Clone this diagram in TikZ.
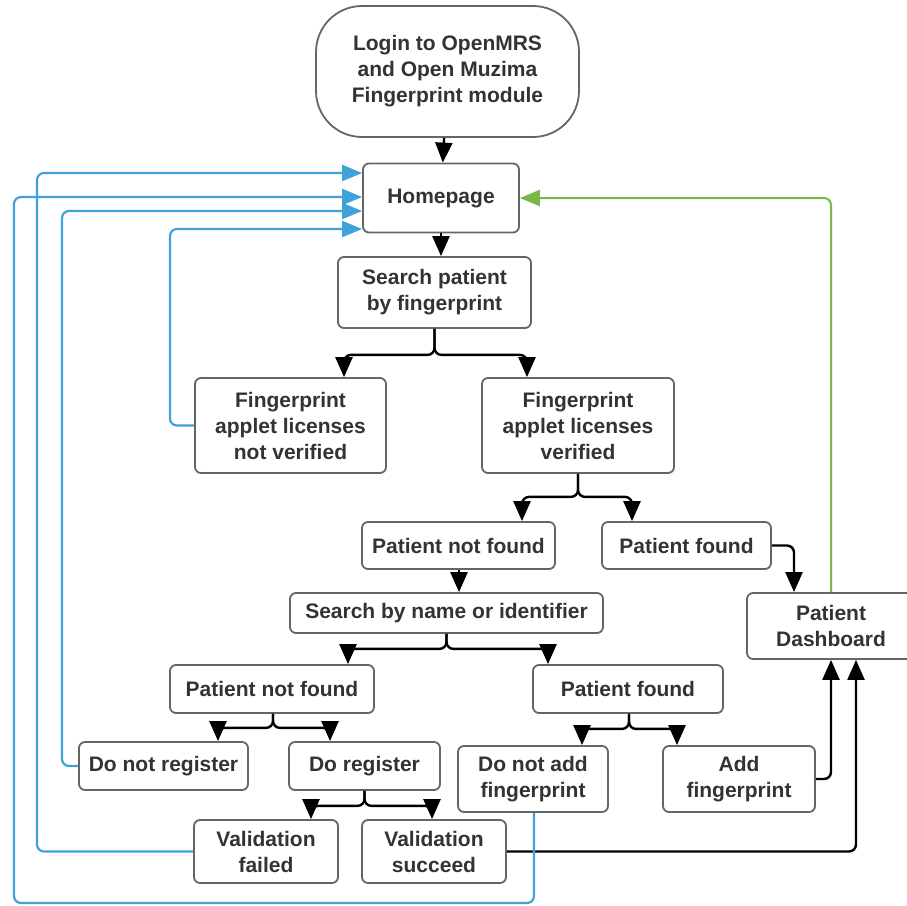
\documentclass[tikz,border=0pt]{standalone}
\usepackage{fontspec}
\setmainfont{Liberation Sans}
\usetikzlibrary{arrows.meta}

\definecolor{boxline}{HTML}{666666}
\definecolor{textgray}{HTML}{333333}
\definecolor{backblue}{HTML}{3FA2D8}
\definecolor{backgreen}{HTML}{7AB648}

\tikzset{
  stepbox/.style={draw=boxline, line width=1.8pt, rounded corners=6pt, fill=white,
    align=center, text=textgray, font=\bfseries\fontsize{21}{26}\selectfont,
    inner sep=0pt},
  startbox/.style={stepbox, rounded corners=46pt},
  conn/.style={line width=2.4pt, black, rounded corners=7pt,
    -{Triangle[width=17pt,length=20pt]}},
  backlink/.style={line width=2.2pt, backblue, rounded corners=7pt,
    -{Triangle[width=16pt,length=20pt]}},
  homelink/.style={line width=2pt, backgreen, rounded corners=7pt,
    -{Triangle[width=16pt,length=20pt]}},
}

\begin{document}
\begin{tikzpicture}[x=1pt, y=-1pt]
\clip (0,0) rectangle (907,905);
\fill[white] (0,0) rectangle (907,905);

% process steps
\node[startbox, minimum width=263, minimum height=131] (login) at (447.5,71.5)
  {Login to OpenMRS\\and Open Muzima\\Fingerprint module};
\node[stepbox, minimum width=156, minimum height=69] (home) at (441,198) {Homepage};
\node[stepbox, minimum width=193, minimum height=71] (search) at (434.5,292.5)
  {Search patient\\by fingerprint};
\node[stepbox, minimum width=191, minimum height=95] (notver) at (290.5,425.5)
  {Fingerprint\\applet licenses\\not verified};
\node[stepbox, minimum width=192, minimum height=95] (ver) at (578,425.5)
  {Fingerprint\\applet licenses\\verified};
\node[stepbox, minimum width=193, minimum height=47] (pnfa) at (458.5,545.5) {Patient not found};
\node[stepbox, minimum width=169, minimum height=47] (pfa) at (686.5,545.5) {Patient found};
\node[stepbox, minimum width=313, minimum height=40] (sname) at (446.5,613)
  {Search by name or identifier};
\node[stepbox, minimum width=168, minimum height=66] (dash) at (831,626)
  {Patient\\Dashboard};
\node[stepbox, minimum width=204, minimum height=48] (pnfb) at (272,689) {Patient not found};
\node[stepbox, minimum width=190, minimum height=48] (pfb) at (628,689) {Patient found};
\node[stepbox, minimum width=169, minimum height=48] (dnr) at (163.5,766) {Do not register};
\node[stepbox, minimum width=151, minimum height=48] (dr) at (364.5,766) {Do register};
\node[stepbox, minimum width=150, minimum height=66] (dna) at (533,779)
  {Do not add\\fingerprint};
\node[stepbox, minimum width=152, minimum height=66] (addf) at (739,779)
  {Add\\fingerprint};
\node[stepbox, minimum width=144, minimum height=63] (vf) at (266,851.5)
  {Validation\\failed};
\node[stepbox, minimum width=144, minimum height=63] (vs) at (434,851.5)
  {Validation\\succeed};

% straight flow
\draw[conn] (login) -- (home);
\draw[conn] (home) -- (home |- search.north);
\draw[conn] ([xshift=0.5pt]pnfa.south) -- ([xshift=0.5pt]pnfa.south |- sname.north);

% two-way splits
\draw[conn] (search.south) -- ++(0,26) -| ([xshift=53.5pt]notver.north);
\draw[conn] (search.south) -- ++(0,26) -| ([xshift=-51pt]ver.north);
\draw[conn] (ver.south) -- ++(0,23) -| ([xshift=63.5pt]pnfa.north);
\draw[conn] (ver.south) -- ++(0,23) -| ([xshift=-54.5pt]pfa.north);
\draw[conn] (sname.south) -- ++(0,15) -| ([xshift=76pt]pnfb.north);
\draw[conn] (sname.south) -- ++(0,15) -| ([xshift=-80pt]pfb.north);
\draw[conn] ([xshift=1pt]pnfb.south) -- ++(0,14) -| ([xshift=54.5pt]dnr.north);
\draw[conn] ([xshift=1pt]pnfb.south) -- ++(0,14) -| ([xshift=-34.5pt]dr.north);
\draw[conn] ([xshift=1pt]pfb.south) -- ++(0,15) -| ([xshift=49pt]dna.north);
\draw[conn] ([xshift=1pt]pfb.south) -- ++(0,15) -| ([xshift=-62pt]addf.north);
\draw[conn] (dr.south) -- ++(0,15) -| ([xshift=45pt]vf.north);
\draw[conn] (dr.south) -- ++(0,15) -| ([xshift=-2pt]vs.north);

% into the dashboard
\draw[conn] (pfa.east) -| ([xshift=-37pt]dash.north);
\draw[conn] (addf.east) -| (dash.south);
\draw[conn] (vs.east) -| ([xshift=25pt]dash.south);

% back to the homepage
\draw[homelink] (dash.north) |- (home.east);
\draw[backlink] (notver.west) -| (170,229) -- (home.west |- 0,229);
\draw[backlink] (dnr.west) -| (62,211) -- (home.west |- 0,211);
\draw[backlink] (vf.west) -| (37,173) -- (home.west |- 0,173);
\draw[backlink] ([xshift=1pt]dna.south) -- (534,903) -| (14,197) -- (home.west |- 0,197);
\end{tikzpicture}
\end{document}
